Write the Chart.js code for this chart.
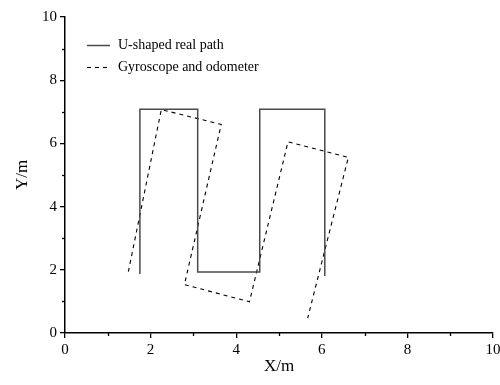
<!DOCTYPE html>
<html>
<head>
<meta charset="utf-8">
<script src="https://cdn.jsdelivr.net/npm/chart.js@4"></script>
<style>
  html, body { margin: 0; padding: 0; background: #fff; overflow: hidden; }
  #wrap { width: 500px; height: 385px; overflow: hidden; }
</style>
</head>
<body>
<div id="wrap"><canvas id="pathChart" width="510" height="385"></canvas></div>
<script>
document.addEventListener('DOMContentLoaded', function() {
    "use strict";

    // ==========================================
    // Data
    // ==========================================
    const realX = [1.75, 1.75, 3.10, 3.10, 4.55, 4.55, 6.07, 6.07];
    const realY = [1.87, 7.08, 7.08, 1.93, 1.93, 7.08, 7.08, 1.80];

    const gyroX = [1.48, 2.25, 3.65, 2.79, 4.31, 5.21, 6.62, 5.67];
    const gyroY = [1.94, 7.07, 6.60, 1.53, 0.99, 6.05, 5.56, 0.47];

    const majorTicks = [0, 2, 4, 6, 8, 10];
    const minorTicks = [1, 3, 5, 7, 9];

    const seriesNames = ['U-shaped real path', 'Gyroscope and odometer'];

    const serif = '"Liberation Serif", "DejaVu Serif", serif';

    function toPoints(xs, ys) {
        return xs.map(function(x, i) { return { x: x, y: ys[i] }; });
    }

    // minor tick marks, drawn through the scales
    const minorTickPlugin = {
        id: 'minorTicks',
        afterDraw: function(chart) {
            const ctx = chart.ctx;
            const xs = chart.scales.x;
            const ys = chart.scales.y;
            ctx.save();
            ctx.strokeStyle = '#000';
            ctx.lineWidth = 1.3;
            minorTicks.forEach(function(v) {
                const px = Math.round(xs.getPixelForValue(v)) + 0.5;
                ctx.beginPath();
                ctx.moveTo(px, xs.top);
                ctx.lineTo(px, xs.top + 3);
                ctx.stroke();
                const py = Math.round(ys.getPixelForValue(v)) + 0.5;
                ctx.beginPath();
                ctx.moveTo(ys.right, py);
                ctx.lineTo(ys.right - 3, py);
                ctx.stroke();
            });
            ctx.restore();
        }
    };

    // legend inside the plot, top left
    const insideLegendPlugin = {
        id: 'insideLegend',
        afterDraw: function(chart) {
            const ctx = chart.ctx;
            const area = chart.chartArea;
            ctx.save();
            ctx.font = '14px ' + serif;
            ctx.textBaseline = 'middle';
            chart.data.datasets.forEach(function(ds, i) {
                const y = area.top + 28 + i * 22;
                const x0 = area.left + 22;
                ctx.strokeStyle = ds.borderColor;
                ctx.lineWidth = ds.borderWidth;
                ctx.setLineDash(ds.borderDash || []);
                ctx.beginPath();
                ctx.moveTo(x0, y + 0.5);
                ctx.lineTo(x0 + 23, y + 0.5);
                ctx.stroke();
                ctx.setLineDash([]);
                ctx.fillStyle = '#000';
                ctx.fillText(ds.label, x0 + 31, y);
            });
            ctx.restore();
        }
    };

    const pathCtx = document.getElementById('pathChart');
    new Chart(pathCtx, {
        type: 'scatter',
        data: {
            datasets: [{
                label: seriesNames[0],
                data: toPoints(realX, realY),
                showLine: true,
                borderColor: '#4a4a4a',
                borderWidth: 1.5,
                pointRadius: 0,
                tension: 0
            }, {
                label: seriesNames[1],
                data: toPoints(gyroX, gyroY),
                showLine: true,
                borderColor: '#000',
                borderWidth: 1.1,
                borderDash: [4, 4],
                pointRadius: 0,
                tension: 0
            }]
        },
        options: {
            responsive: false,
            animation: false,
            devicePixelRatio: 1,
            layout: {
                padding: { top: 17, right: 17, left: 0, bottom: 0 }
            },
            plugins: {
                legend: { display: false },
                tooltip: { enabled: false }
            },
            scales: {
                x: {
                    type: 'linear',
                    min: 0,
                    max: 10,
                    afterBuildTicks: function(scale) {
                        scale.ticks = majorTicks.map(function(v) { return { value: v }; });
                    },
                    afterFit: function(scale) { scale.height = 52; },
                    border: { display: true, color: '#000', width: 1.5 },
                    grid: {
                        drawOnChartArea: false,
                        drawTicks: true,
                        tickLength: 5,
                        color: '#000',
                        lineWidth: 1.3
                    },
                    ticks: {
                        color: '#000',
                        padding: 3,
                        maxRotation: 0,
                        font: { family: serif, size: 15 }
                    },
                    title: {
                        display: true,
                        text: 'X/m',
                        color: '#000',
                        padding: { top: 0, bottom: 8 },
                        font: { family: serif, size: 17 }
                    }
                },
                y: {
                    type: 'linear',
                    min: 0,
                    max: 10,
                    afterBuildTicks: function(scale) {
                        scale.ticks = majorTicks.map(function(v) { return { value: v }; });
                    },
                    afterFit: function(scale) { scale.width = 65; },
                    border: { display: true, color: '#000', width: 1.5 },
                    grid: {
                        drawOnChartArea: false,
                        drawTicks: true,
                        tickLength: 5,
                        color: '#000',
                        lineWidth: 1.3
                    },
                    ticks: {
                        color: '#000',
                        padding: 3,
                        font: { family: serif, size: 15 }
                    },
                    title: {
                        display: true,
                        text: 'Y/m',
                        color: '#000',
                        padding: { top: 12, bottom: 0 },
                        font: { family: serif, size: 17 }
                    }
                }
            }
        },
        plugins: [minorTickPlugin, insideLegendPlugin]
    });
});
</script>
</body>
</html>
